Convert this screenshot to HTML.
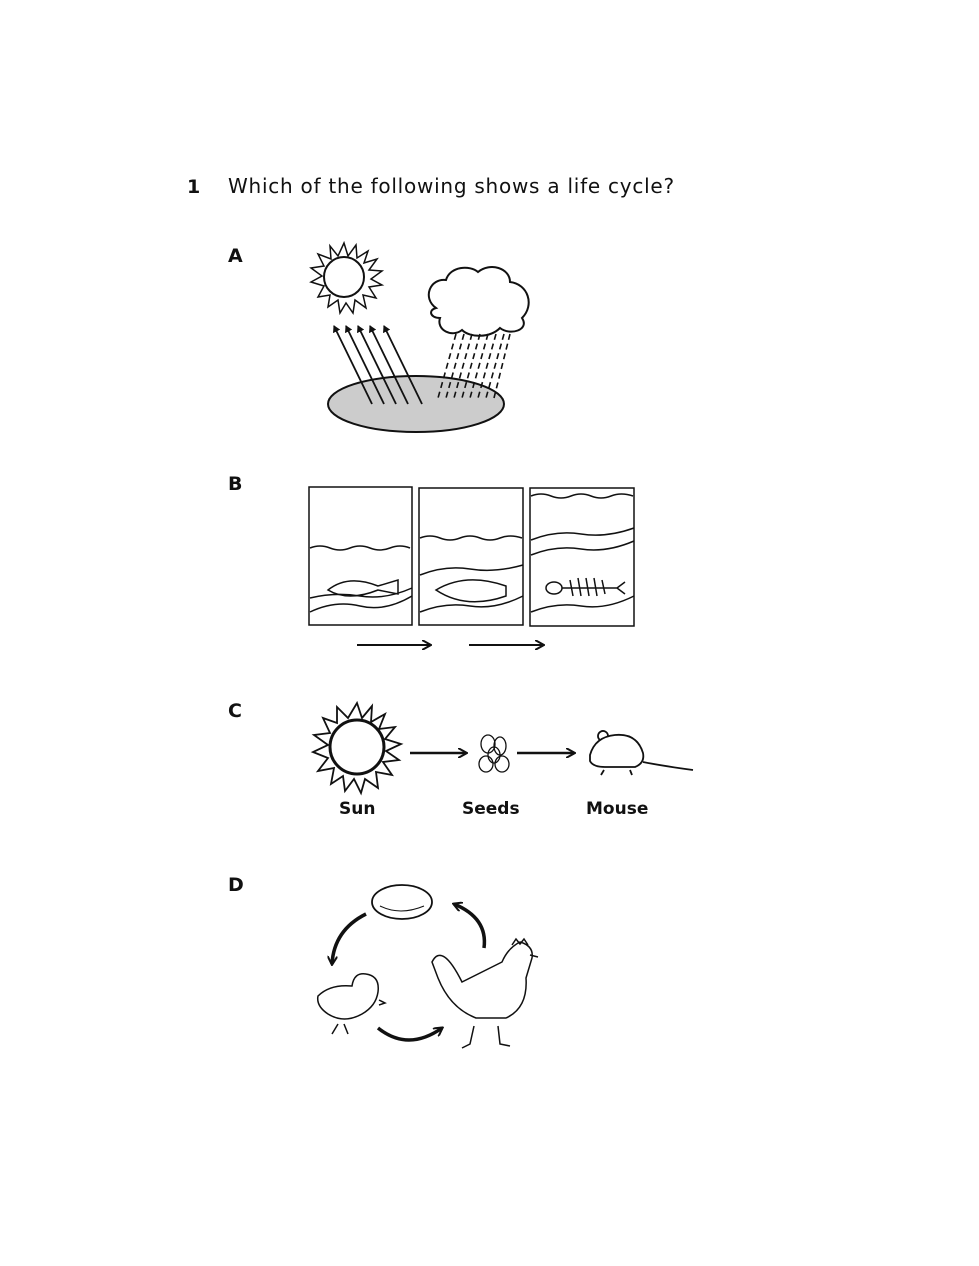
<!DOCTYPE html>
<html><head><style>
body{margin:0;background:#fff;width:979px;height:1266px;overflow:hidden;font-family:"DejaVu Sans","Liberation Sans",sans-serif;}
.t{position:absolute;color:#111}
</style></head><body>
<div class="t" style="left:187px;top:176px;font-size:19px;font-weight:bold">1</div>
<div class="t" style="left:228px;top:174px;font-size:20px;letter-spacing:0.75px">Which of the following shows a life cycle?</div>
<div class="t" style="left:228px;top:245px;font-size:19px;font-weight:bold">A</div>
<div class="t" style="left:228px;top:473px;font-size:19px;font-weight:bold">B</div>
<div class="t" style="left:228px;top:700px;font-size:19px;font-weight:bold">C</div>
<div class="t" style="left:228px;top:874px;font-size:19px;font-weight:bold">D</div>
<div class="t" style="left:339px;top:799px;font-size:17px;font-weight:bold">Sun</div>
<div class="t" style="left:462px;top:799px;font-size:17px;font-weight:bold">Seeds</div>
<div class="t" style="left:586px;top:799px;font-size:17px;font-weight:bold">Mouse</div>
<svg width="979" height="1266" style="position:absolute;left:0;top:0" fill="none" stroke="#111" stroke-width="2">
<defs><marker id="ah" markerWidth="10" markerHeight="10" refX="8" refY="5" orient="auto" markerUnits="userSpaceOnUse"><path d="M0,0 L9,5 L0,10" fill="none" stroke="#111" stroke-width="2"/></marker>
<marker id="sh" markerWidth="8" markerHeight="8" refX="6" refY="4" orient="auto" markerUnits="userSpaceOnUse"><path d="M0,0 L7,4 L0,8 z" fill="#111" stroke="none"/></marker></defs>
<g id="sunA">
<circle cx="344" cy="277" r="20"/>
<polygon points="344,243 348,256 356,245 357,258 368,251 364,263 377,259 369,270 382,271 371,279 382,285 369,287 376,298 363,295 366,308 355,300 353,313 346,303 340,313 338,300 328,307 330,295 318,297 324,286 311,282 322,276 311,268 324,266 318,254 331,259 330,246 338,256" stroke-width="1.5"/>
</g>
<path d="M436,308 C422,298 430,278 446,280 C450,266 470,265 478,272 C490,262 510,268 510,282 C528,284 535,305 522,318 C530,330 510,336 500,328 C490,338 470,338 462,330 C452,338 436,330 440,318 C430,318 428,310 436,308 Z"/>
<ellipse cx="416" cy="404" rx="88" ry="28" fill="#ccc"/>
<g marker-end="url(#sh)" stroke-width="1.8">
<line x1="372" y1="404" x2="334" y2="326"/><line x1="384" y1="404" x2="346" y2="326"/><line x1="396" y1="404" x2="358" y2="326"/><line x1="408" y1="404" x2="370" y2="326"/><line x1="422" y1="404" x2="384" y2="326"/>
</g>
<g stroke-dasharray="6,4" stroke-width="1.6">
<line x1="456" y1="334" x2="438" y2="398"/><line x1="464" y1="334" x2="446" y2="398"/><line x1="472" y1="334" x2="454" y2="398"/><line x1="480" y1="334" x2="462" y2="398"/><line x1="488" y1="334" x2="470" y2="398"/><line x1="496" y1="334" x2="478" y2="398"/><line x1="504" y1="334" x2="486" y2="398"/><line x1="510" y1="334" x2="494" y2="398"/>
</g>
<rect x="309" y="487" width="103" height="138" stroke-width="1.5"/>
<rect x="419" y="488" width="104" height="137" stroke-width="1.5"/>
<rect x="530" y="488" width="104" height="138" stroke-width="1.5"/>
<g stroke-width="1.5">
<path d="M310,548 q10,-4 20,0 t20,0 t20,0 t20,0 t20,0"/>
<path d="M310,612 q25,-12 50,-6 t52,-10"/><path d="M310,598 q25,-6 50,-2 t52,-8"/>
<path d="M420,538 q10,-4 20,0 t20,0 t20,0 t20,0 t22,0"/>
<path d="M420,575 q25,-10 50,-6 t53,-4"/><path d="M420,612 q25,-10 50,-6 t53,-10"/>
<path d="M531,496 q10,-4 20,0 t20,0 t20,0 t20,0 t22,0"/>
<path d="M531,540 q25,-10 50,-6 t53,-6"/><path d="M531,555 q25,-10 50,-6 t53,-8"/>
<path d="M531,612 q25,-10 50,-6 t53,-10"/>
<path d="M328,590 q20,-16 50,-4 l20,-6 v14 l-20,-4 q-30,12 -50,0z"/>
<path d="M436,590 q30,-18 70,-4 v10 q-40,14 -70,-6z"/>
<ellipse cx="554" cy="588" rx="8" ry="6"/><path d="M562,588 h55 M570,580 l3,16 M578,578 l3,18 M586,578 l3,18 M594,578 l3,18 M602,580 l3,14 M617,588 l8,-6 M617,588 l8,6"/>
</g>
<line x1="357" y1="645" x2="430" y2="645" marker-end="url(#ah)"/>
<line x1="469" y1="645" x2="543" y2="645" marker-end="url(#ah)"/>
<circle cx="357" cy="747" r="27" stroke-width="3"/>
<polygon points="357,703 362,718 372,706 371,722 385,714 379,729 395,727 385,739 401,744 386,751 399,760 383,762 392,775 376,772 378,788 365,779 361,793 354,779 345,791 343,776 331,784 334,768 318,771 328,758 313,752 328,745 314,735 330,733 323,718 337,723 337,707 348,718" stroke-width="1.8"/>
<line x1="410" y1="753" x2="466" y2="753" marker-end="url(#ah)" stroke-width="2.5"/>
<line x1="517" y1="753" x2="574" y2="753" marker-end="url(#ah)" stroke-width="2.5"/>
<g stroke-width="1.3"><ellipse cx="488" cy="744" rx="7" ry="9"/><ellipse cx="500" cy="746" rx="6" ry="9"/><ellipse cx="486" cy="764" rx="7" ry="8"/><ellipse cx="502" cy="764" rx="7" ry="8"/><ellipse cx="494" cy="755" rx="6" ry="8"/></g>
<path d="M590,755 q5,-18 25,-20 q22,-2 28,18 q2,10 -8,14 h-30 q-12,0 -15,-6z M600,740 a5,5 0 1,1 8,-4 M643,762 q20,4 50,8 M604,770 l-3,5 M630,770 l2,5" stroke-width="1.8"/>
<ellipse cx="402" cy="902" rx="30" ry="17" stroke-width="1.8"/>
<path d="M380,906 q20,10 44,0" stroke-width="1"/>
<path d="M366,914 Q334,930 332,964" stroke-width="3.5" marker-end="url(#ah)"/>
<path d="M484,948 Q488,918 454,904" stroke-width="3.5" marker-end="url(#ah)"/>
<path d="M378,1028 Q408,1052 442,1028" stroke-width="3.5" marker-end="url(#ah)"/>
<g stroke-width="1.5">
<path d="M318,996 q12,-12 34,-10 q2,-14 14,-12 q14,2 12,18 q-2,14 -16,22 q-18,10 -34,0 q-12,-8 -10,-18z M379,1000 l6,3 l-6,2"/>
<path d="M338,1024 l-6,10 M344,1024 l4,10"/>
<path d="M432,962 q10,-20 30,20 q20,-10 40,-20 q6,-14 18,-20 q14,4 12,16 l-6,20 q2,30 -20,40 h-30 q-26,-10 -38,-40z M512,945 l4,-6 l4,5 l4,-5 l4,6 M530,955 l8,2 M474,1026 l-4,18 l-8,4 M498,1026 l2,18 l10,2"/>
</g>
</svg>
</body></html>
